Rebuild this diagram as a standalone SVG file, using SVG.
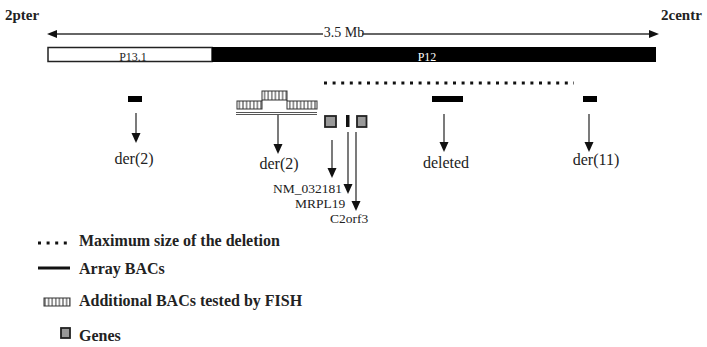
<svg xmlns="http://www.w3.org/2000/svg" width="707" height="347" viewBox="0 0 707 347">
<style>
text{font-family:"Liberation Serif","Times New Roman",serif;fill:#222}
.b{font-weight:bold;font-size:15px}
.lbl{font-size:16px;text-anchor:middle}
.gene{font-size:13.5px}
.leg{font-weight:bold;font-size:16px}
.sh{stroke:#333;stroke-width:1.3;fill:none}
.hd{fill:#111}
.bac{fill:#000}
.gbox{fill:#999;stroke:#222;stroke-width:1.8}
.fish{fill:url(#hatch);stroke:#333;stroke-width:1}
</style>
<defs>
<pattern id="hatch" patternUnits="userSpaceOnUse" width="3.6" height="10" x="0" y="0">
<rect width="3.6" height="10" fill="#fff"/>
<line x1="1.8" y1="0" x2="1.8" y2="10" stroke="#333" stroke-width="1"/>
</pattern>
</defs>
<rect width="707" height="347" fill="#fff"/>

<g id="header">
<text class="b" x="5" y="20">2pter</text>
<text class="b" x="661" y="20">2centr</text>
<text x="344" y="37" style="font-size:14px;text-anchor:middle">3.5 Mb</text>
</g>

<g id="chromosome">
<rect x="48" y="47.5" width="164" height="14" fill="#fff" stroke="#222" stroke-width="1.5"/>
<rect x="212" y="47" width="444" height="15" fill="#000"/>
<text x="133" y="61" style="font-size:12px;text-anchor:middle">P13.1</text>
<text x="427" y="61" style="font-size:12px;text-anchor:middle;fill:#fff">P12</text>
</g>

<g id="connectors">
<line class="sh" x1="56" y1="34" x2="323" y2="34"/>
<polygon class="hd" points="47,34 57,30 57,38"/>
<line class="sh" x1="362" y1="34" x2="650" y2="34"/>
<polygon class="hd" points="659,34 649,30 649,38"/>
<line class="sh" x1="136" y1="113" x2="136" y2="134"/>
<polygon class="hd" points="131.5,133 140.5,133 136,143"/>
<line class="sh" x1="278" y1="115" x2="278" y2="145"/>
<polygon class="hd" points="273.5,144 282.5,144 278,154"/>
<line class="sh" x1="444" y1="114" x2="444" y2="143"/>
<polygon class="hd" points="439.5,142 448.5,142 444,152"/>
<line class="sh" x1="589" y1="114" x2="589" y2="143"/>
<polygon class="hd" points="584.5,142 593.5,142 589,152"/>
<line class="sh" x1="332" y1="140" x2="332" y2="169"/>
<polygon class="hd" points="327.5,168 336.5,168 332,178"/>
<line class="sh" x1="348" y1="132" x2="348" y2="185"/>
<polygon class="hd" points="343.5,184 352.5,184 348,194"/>
<line class="sh" x1="356" y1="132" x2="356" y2="202"/>
<polygon class="hd" points="351.5,201 360.5,201 356,211"/>
</g>

<g id="deletion">
<line x1="324" y1="83" x2="574" y2="83" stroke="#111" stroke-width="3" stroke-dasharray="3 5.6"/>
</g>

<g id="bac-der2">
<rect class="bac" x="128" y="96" width="14" height="6"/>
<text class="lbl" x="134" y="164">der(2)</text>
</g>

<g id="fish-der2">
<rect class="fish" x="237" y="101" width="25" height="8"/>
<rect class="fish" x="262" y="91" width="25" height="9"/>
<line x1="262" y1="100" x2="262" y2="101" stroke="#333"/>
<line x1="287" y1="100" x2="287" y2="101" stroke="#333"/>
<rect class="fish" x="287" y="101" width="30" height="8"/>
<line x1="236" y1="112.5" x2="317" y2="112.5" stroke="#555" stroke-width="1"/>
<line x1="236" y1="114.5" x2="317" y2="114.5" stroke="#555" stroke-width="1"/>
<text class="lbl" x="279" y="169">der(2)</text>
</g>

<g id="genes">
<rect class="gbox" x="325" y="116" width="11" height="11"/>
<rect x="346" y="115" width="3.5" height="12" fill="#111"/>
<rect class="gbox" x="357" y="116" width="9.5" height="11"/>
<text class="gene" x="273" y="193">NM_032181</text>
<text class="gene" x="295" y="208">MRPL19</text>
<text class="gene" x="330" y="223">C2orf3</text>
</g>

<g id="bac-deleted">
<rect class="bac" x="432" y="96" width="31" height="6"/>
<text class="lbl" x="446" y="168">deleted</text>
</g>

<g id="bac-der11">
<rect class="bac" x="583" y="96" width="14" height="6"/>
<text class="lbl" x="596" y="165">der(11)</text>
</g>

<g id="legend">
<line x1="38" y1="243" x2="70" y2="243" stroke="#111" stroke-width="3" stroke-dasharray="3 5.6"/>
<text class="leg" x="79" y="246">Maximum size of the deletion</text>
<line x1="38" y1="268" x2="70" y2="268" stroke="#111" stroke-width="3"/>
<text class="leg" x="79" y="274">Array BACs</text>
<rect class="fish" x="44" y="298" width="26" height="8"/>
<text class="leg" x="79" y="306">Additional BACs tested by FISH</text>
<rect class="gbox" x="61" y="328" width="9" height="10"/>
<text class="leg" x="79" y="341">Genes</text>
</g>
</svg>
